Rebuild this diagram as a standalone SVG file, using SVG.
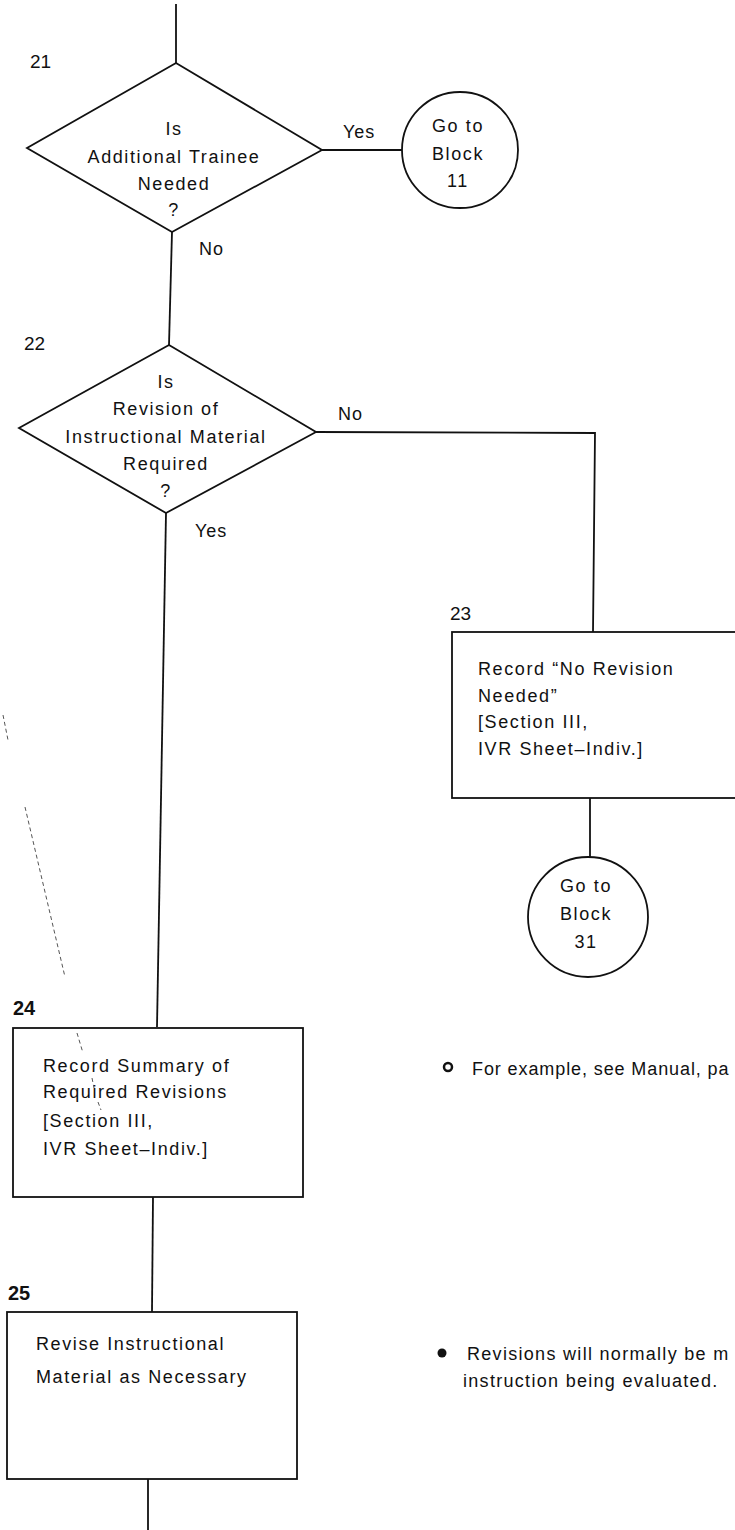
<svg xmlns="http://www.w3.org/2000/svg" width="735" height="1530" viewBox="0 0 735 1530">
<style>
  .shape { fill: #fff; stroke: #111; stroke-width: 1.8; }
  .conn { fill: none; stroke: #111; stroke-width: 1.8; }
  .t { font-family: "Liberation Sans", Arial, sans-serif; font-size: 18px; letter-spacing: 1.6px; fill: #111; }
  .c { text-anchor: middle; }
  .num { font-family: "Liberation Sans", Arial, sans-serif; font-size: 19px; fill: #111; }
  .numb { font-family: "Liberation Sans", Arial, sans-serif; font-size: 20px; font-weight: bold; fill: #111; }
  .lbl { font-family: "Liberation Sans", Arial, sans-serif; font-size: 18px; letter-spacing: 1px; fill: #111; }
  .note { font-family: "Liberation Sans", Arial, sans-serif; font-size: 18px; fill: #111; }
  .noise { fill: none; stroke: #555; stroke-width: 1; stroke-dasharray: 4 3; }
</style>
<rect x="0" y="0" width="735" height="1530" fill="#fff"/>

<g id="connectors">
  <line class="conn" x1="176" y1="4" x2="176" y2="63"/>
  <line class="conn" x1="322" y1="150" x2="402" y2="150" stroke-width="2.4"/>
  <line class="conn" x1="172" y1="232" x2="169" y2="345"/>
  <polyline class="conn" points="316,432 595,433 593,632"/>
  <line class="conn" x1="590" y1="798" x2="590" y2="857"/>
  <line class="conn" x1="166" y1="513" x2="157" y2="1027"/>
  <line class="conn" x1="153" y1="1197" x2="152" y2="1312"/>
  <line class="conn" x1="148" y1="1479" x2="148" y2="1530"/>
  <text class="lbl" x="343" y="138">Yes</text>
  <text class="lbl" x="199" y="255">No</text>
  <text class="lbl" x="338" y="420">No</text>
  <text class="lbl" x="195" y="537">Yes</text>
</g>

<g id="node21">
  <text class="num" x="30" y="68">21</text>
  <polygon class="shape" points="176,63 322,150 172,232 27,148"/>
  <text class="t c" x="174" y="135">Is</text>
  <text class="t c" x="174" y="163">Additional Trainee</text>
  <text class="t c" x="174" y="190">Needed</text>
  <text class="t c" x="174" y="216">?</text>
</g>

<g id="goto11">
  <circle class="shape" cx="460" cy="150" r="58"/>
  <text class="t c" x="458" y="132">Go to</text>
  <text class="t c" x="458" y="160">Block</text>
  <text class="t c" x="458" y="187">11</text>
</g>

<g id="node22">
  <text class="num" x="24" y="350">22</text>
  <polygon class="shape" points="169,345 316,432 166,513 19,428"/>
  <text class="t c" x="166" y="388">Is</text>
  <text class="t c" x="166" y="415">Revision of</text>
  <text class="t c" x="166" y="443">Instructional Material</text>
  <text class="t c" x="166" y="470">Required</text>
  <text class="t c" x="166" y="497">?</text>
</g>

<g id="node23">
  <text class="num" x="450" y="620">23</text>
  <rect class="shape" x="452" y="632" width="310" height="166"/>
  <text class="t" x="478" y="675">Record “No Revision</text>
  <text class="t" x="478" y="702">Needed”</text>
  <text class="t" x="478" y="728">[Section III,</text>
  <text class="t" x="478" y="755"> IVR Sheet–Indiv.]</text>
</g>

<g id="goto31">
  <circle class="shape" cx="588" cy="917" r="60"/>
  <text class="t c" x="586" y="892">Go to</text>
  <text class="t c" x="586" y="920">Block</text>
  <text class="t c" x="586" y="948">31</text>
</g>

<g id="node24">
  <text class="numb" x="13" y="1015">24</text>
  <rect class="shape" x="13" y="1028" width="290" height="169"/>
  <text class="t" x="43" y="1072">Record Summary of</text>
  <text class="t" x="43" y="1098">Required Revisions</text>
  <text class="t" x="43" y="1127">[Section III,</text>
  <text class="t" x="43" y="1155"> IVR Sheet–Indiv.]</text>
</g>

<g id="node25">
  <text class="numb" x="8" y="1300">25</text>
  <rect class="shape" x="7" y="1312" width="290" height="167"/>
  <text class="t" x="36" y="1350">Revise Instructional</text>
  <text class="t" x="36" y="1383">Material as Necessary</text>
</g>

<g id="notes">
  <circle cx="448" cy="1067" r="4" fill="#fff" stroke="#111" stroke-width="2.5"/>
  <text class="note" x="472" y="1075" letter-spacing="0.9">For example, see Manual, pa</text>
  <circle cx="442" cy="1353" r="4.5" fill="#111"/>
  <text class="note" x="467" y="1360" letter-spacing="1.3">Revisions will normally be m</text>
  <text class="note" x="463" y="1387" letter-spacing="1.3">instruction being evaluated.</text>
</g>

<g id="scan-marks">
  <line class="noise" x1="25" y1="807" x2="65" y2="977"/>
  <line class="noise" x1="3" y1="715" x2="8" y2="740"/>
  <line class="noise" x1="77" y1="1033" x2="83" y2="1053"/>
  <line class="noise" x1="92" y1="1078" x2="94" y2="1088"/>
  <line class="noise" x1="98" y1="1102" x2="101" y2="1110"/>
</g>
</svg>
